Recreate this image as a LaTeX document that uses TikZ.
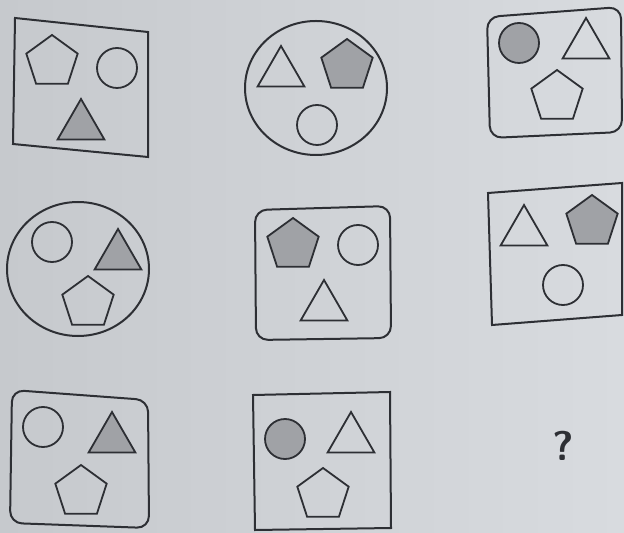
\documentclass[tikz,border=0pt]{standalone}
\usepackage{tikz}
\usetikzlibrary{shapes.geometric}
\definecolor{ink}{RGB}{45,47,52}
\definecolor{paper}{RGB}{216,219,223}
\definecolor{paperd}{RGB}{198,201,205}
\definecolor{shd}{RGB}{160,162,166}
\begin{document}
\begin{tikzpicture}[x=0.5pt,y=-0.5pt,
  frm/.style={draw=ink,line width=1pt},
  rnd/.style={frm,rounded corners=6pt},
  ov/.style={frm,ellipse,inner sep=0pt,minimum width=71pt,minimum height=67pt},
  cr/.style={draw=ink,line width=0.9pt,circle,inner sep=0pt,minimum size=20pt},
  pg/.style={draw=ink,line width=0.9pt,regular polygon,regular polygon sides=5,inner sep=0pt,minimum size=27pt},
  tr/.style={draw=ink,line width=0.9pt,regular polygon,regular polygon sides=3,inner sep=0pt,minimum size=27pt},
  gr/.style={fill=shd}]
  \shade[left color=paperd,right color=paper] (0,0) rectangle (624,533);
  % row 1
  \draw[frm] (15,18) -- (148,32) -- (148,157) -- (13,144) -- cycle;
  \node[pg]    (p1) at (52,62)  {};
  \node[cr]    (c1) at (117,68) {};
  \node[tr,gr] (t1) at (81,126) {};
  \node[ov]    (f2) at (316,88) {};
  \node[tr]    (t2) at (281,73) {};
  \node[pg,gr] (p2) at (347,66) {};
  \node[cr]    (c2) at (317,125) {};
  \draw[rnd] (487,17) -- (621,7) -- (622,132) -- (490,138) -- cycle;
  \node[cr,gr] (c3) at (519,43) {};
  \node[tr]    (t3) at (586,45) {};
  \node[pg]    (p3) at (557,97) {};
  % row 2
  \node[ov]    (f4) at (78,269) {};
  \node[cr]    (c4) at (52,242) {};
  \node[tr,gr] (t4) at (118,256) {};
  \node[pg]    (p4) at (88,303) {};
  \draw[rnd] (255,210) -- (390,206) -- (391,338) -- (256,340) -- cycle;
  \node[pg,gr] (p5) at (293,245) {};
  \node[cr]    (c5) at (358,245) {};
  \node[tr]    (t5) at (324,307) {};
  \draw[frm] (488,193) -- (622,183) -- (622,315) -- (492,325) -- cycle;
  \node[tr]    (t6) at (524,232) {};
  \node[pg,gr] (p6) at (592,222) {};
  \node[cr]    (c6) at (563,285) {};
  % row 3
  \draw[rnd] (12,390) -- (148,400) -- (149,528) -- (10,523) -- cycle;
  \node[cr]    (c7) at (43,427) {};
  \node[tr,gr] (t7) at (112,439) {};
  \node[pg]    (p7) at (81,492) {};
  \draw[frm] (253,395) -- (390,392) -- (391,528) -- (255,530) -- cycle;
  \node[cr,gr] (c8) at (285,439) {};
  \node[tr]    (t8) at (351,439) {};
  \node[pg]    (p8) at (323,495) {};
  \node[text=ink,font=\huge\bfseries\sffamily] (q) at (563,446) {?};
\end{tikzpicture}
\end{document}
